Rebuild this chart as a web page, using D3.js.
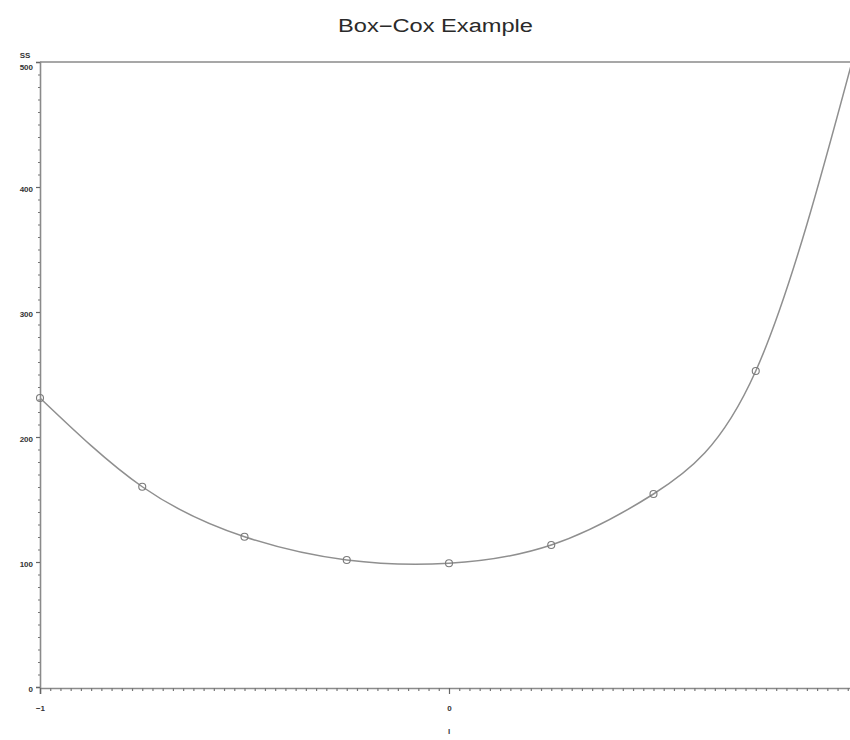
<!DOCTYPE html>
<html>
<head>
<meta charset="utf-8">
<script src="https://cdn.jsdelivr.net/npm/d3@7"></script>
<style>
  html, body { margin: 0; padding: 0; background: #fff; }
  svg { display: block; }
</style>
</head>
<body>
<svg id="chart" width="850" height="740"></svg>
<script>
// ---- data ----
const lambdas = [-1, -0.75, -0.5, -0.25, 0, 0.25, 0.5, 0.75, 1];
const ssValues = [231.2, 160.2, 120.2, 101.6, 99.0, 113.6, 154.4, 252.8, 518];
const yTickValues = [0, 100, 200, 300, 400, 500];
const xTickValues = [-1, 0, 1];
const xTickLabels = ["\u22121", "0", ""];
const titleText = "Box\u2212Cox Example";
const yLabel = "SS";
const xLabel = "l";

(function () {
// ---- layout ----
const svg = d3.select("#chart");
const mLeft = 40, mRight = 858, mTop = 62, mBottom = 687;

const x = d3.scaleLinear().domain([-1, 1]).range([mLeft, mRight]);
const y = d3.scaleLinear().domain([0, 500]).range([mBottom, mTop]);

const axisColor = "#8a8a8a";
const textColor = "#333";

// title
svg.append("text")
  .attr("x", 435.5).attr("y", 32)
  .attr("text-anchor", "middle")
  .attr("font-family", "Liberation Sans, Arial, sans-serif")
  .attr("font-size", 18)
  .attr("fill", "#2a2a2a")
  .attr("textLength", 195)
  .attr("lengthAdjust", "spacingAndGlyphs")
  .text(titleText);

// clip for the data curve
svg.append("defs").append("clipPath").attr("id", "plotClip")
  .append("rect").attr("x", mLeft).attr("y", mTop).attr("width", mRight - mLeft).attr("height", mBottom - mTop + 2);

// top frame line
svg.append("line")
  .attr("x1", mLeft).attr("x2", mRight)
  .attr("y1", mTop).attr("y2", mTop)
  .attr("stroke", axisColor).attr("stroke-width", 1.6);

// y axis
const yAxis = d3.axisLeft(y)
  .tickValues(yTickValues)
  .tickSize(4)
  .tickFormat(d3.format("d"));
const gy = svg.append("g").attr("transform", `translate(${mLeft},0)`).call(yAxis);
gy.select(".domain").attr("stroke", axisColor).attr("stroke-width", 1.6);
gy.selectAll(".tick line").attr("stroke", "#666").attr("stroke-width", 1.2);
gy.selectAll(".tick text")
  .attr("font-family", "Liberation Sans, Arial, sans-serif")
  .attr("font-size", 8).attr("font-weight", "bold")
  .attr("fill", textColor).attr("x", -7)
  .attr("dy", (d) => d === 500 ? "0.95em" : "0.5em");

// y minor ticks
const yMinor = d3.range(0, 501, 10).filter(v => v % 100 !== 0);
const gyMinor = svg.append("g").attr("transform", `translate(${mLeft},0)`)
  .call(d3.axisLeft(y).tickValues(yMinor).tickSize(2).tickFormat(""));
gyMinor.select(".domain").remove();
gyMinor.selectAll(".tick line").attr("stroke", "#777").attr("stroke-width", 1.2);

// y label
svg.append("text")
  .attr("x", 25).attr("y", 58)
  .attr("text-anchor", "middle")
  .attr("font-family", "Liberation Sans, Arial, sans-serif")
  .attr("font-size", 8).attr("font-weight", "bold")
  .attr("fill", textColor)
  .text(yLabel);

// x axis
const xAxis = d3.axisBottom(x)
  .tickValues(xTickValues)
  .tickSize(6)
  .tickFormat((d, i) => xTickLabels[i]);
const gx = svg.append("g").attr("transform", `translate(0,${mBottom + 1})`).call(xAxis);
gx.select(".domain").attr("stroke", axisColor).attr("stroke-width", 1.6);
gx.selectAll(".tick line").attr("stroke", "#666").attr("stroke-width", 1.2);
gx.selectAll(".tick text")
  .attr("font-family", "Liberation Sans, Arial, sans-serif")
  .attr("font-size", 8).attr("font-weight", "bold")
  .attr("fill", textColor).attr("y", 17);

// x minor ticks
const xMinor = d3.range(-40, 41).map(i => i * 0.025).filter(v => Math.abs(v % 1) > 1e-9);
const gxMinor = svg.append("g").attr("transform", `translate(0,${mBottom + 1})`)
  .call(d3.axisBottom(x).tickValues(xMinor).tickSize(3).tickFormat(""));
gxMinor.select(".domain").remove();
gxMinor.selectAll(".tick line").attr("stroke", "#777").attr("stroke-width", 1.2);

// x label
svg.append("text")
  .attr("x", x(0)).attr("y", 734)
  .attr("text-anchor", "middle")
  .attr("font-family", "Liberation Sans, Arial, sans-serif")
  .attr("font-size", 8).attr("font-weight", "bold")
  .attr("fill", textColor)
  .text(xLabel);

// data
const data = lambdas.map((l, i) => ({ l, ss: ssValues[i] }));

const line = d3.line()
  .x(d => x(d.l))
  .y(d => y(d.ss))
  .curve(d3.curveNatural);

svg.append("path")
  .datum(data)
  .attr("clip-path", "url(#plotClip)")
  .attr("d", line)
  .attr("fill", "none")
  .attr("stroke", "#8f8f8f")
  .attr("stroke-width", 1.5);

svg.append("g").selectAll("circle")
  .data(data.filter(d => d.ss <= 500))
  .join("circle")
  .attr("cx", d => x(d.l))
  .attr("cy", d => y(d.ss))
  .attr("r", 3.5)
  .attr("fill", "none")
  .attr("stroke", "#7a7a7a")
  .attr("stroke-width", 1.1);
})();
</script>
</body>
</html>
